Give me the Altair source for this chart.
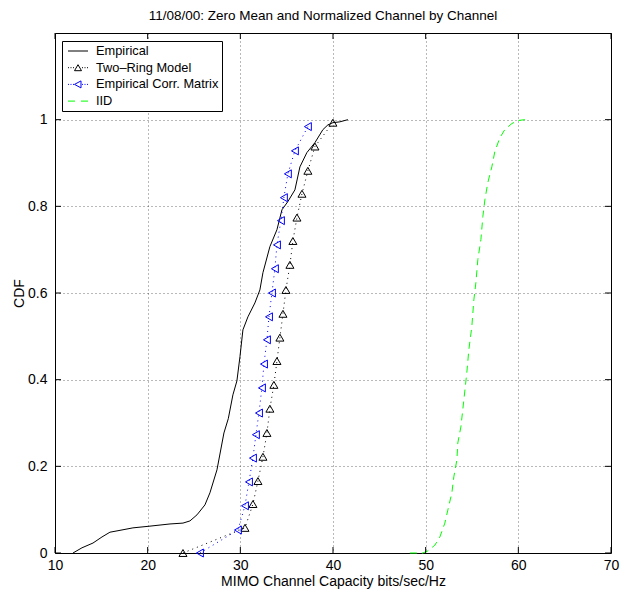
import altair as alt
import pandas as pd

# ---------------- data ----------------
emp_x = [11.94, 12.91, 14.10, 15.07, 15.93, 16.69, 18.41, 20.25, 22.41, 23.81, 24.56, 25.32,
         26.18, 26.72, 27.48, 28.23, 28.70, 29.20, 29.63, 29.96, 30.28, 30.82, 31.57, 32.11,
         32.44, 33.19, 33.95, 34.49, 35.13, 35.89, 36.43, 37.18, 38.05, 38.91, 39.45, 39.99,
         40.74, 41.61]
emp_y = [0.0, 0.012, 0.023, 0.037, 0.048, 0.051, 0.058, 0.062, 0.067, 0.069, 0.074, 0.088,
         0.111, 0.139, 0.192, 0.277, 0.310, 0.365, 0.397, 0.453, 0.515, 0.545, 0.577, 0.607,
         0.647, 0.707, 0.746, 0.792, 0.811, 0.838, 0.891, 0.924, 0.947, 0.977, 0.988, 0.993,
         0.995, 1.0]

ring_x = [23.81, 30.50, 31.36, 31.90, 32.44, 32.87, 33.19, 33.62, 33.95, 34.27, 34.60, 34.92,
          35.35, 35.67, 36.11, 36.65, 37.29, 38.05, 39.99]
ring_y = [0.0, 0.058, 0.113, 0.166, 0.222, 0.277, 0.333, 0.388, 0.443, 0.497, 0.552, 0.607,
          0.665, 0.720, 0.774, 0.829, 0.882, 0.938, 0.993]

corr_x = [25.64, 29.74, 30.50, 30.93, 31.36, 31.68, 32.01, 32.33, 32.55, 32.87, 33.09, 33.41,
          33.73, 33.95, 34.38, 34.70, 35.13, 35.89, 37.29]
corr_y = [0.0, 0.053, 0.109, 0.164, 0.219, 0.273, 0.323, 0.381, 0.436, 0.492, 0.545, 0.600,
          0.656, 0.711, 0.767, 0.820, 0.875, 0.928, 0.984]

iid_x = [48.30, 49.70, 50.24, 50.99, 51.53, 52.07, 52.39, 52.83, 53.04, 53.37, 53.47, 53.80,
         54.12, 54.44, 54.66, 54.98, 55.20, 55.42, 55.63, 55.96, 56.17, 56.39, 56.71, 57.14,
         57.46, 58.00, 58.54, 59.30, 59.95, 60.71]
iid_y = [0.0, 0.0, 0.005, 0.018, 0.037, 0.069, 0.099, 0.139, 0.176, 0.215, 0.254, 0.291,
         0.353, 0.416, 0.469, 0.522, 0.584, 0.624, 0.677, 0.723, 0.776, 0.815, 0.855, 0.891,
         0.926, 0.958, 0.977, 0.991, 0.998, 1.0]

series_names = ["Empirical", "Two\u2013Ring Model", "Empirical Corr. Matrix", "IID"]
series_colors = ["#000000", "#000000", "#0000ff", "#00ff00"]

x_ticks = [10, 20, 30, 40, 50, 60, 70]
y_ticks = [0, 0.2, 0.4, 0.6, 0.8, 1.0]

title_text = "11/08/00: Zero Mean and Normalized Channel by Channel"
x_title = "MIMO Channel Capacity bits/sec/Hz"
y_title = "CDF"

# ---------------- layout / style ----------------
W, H = 556, 520
FONT = "Liberation Sans"

xs = alt.Scale(domain=[10, 70], nice=False, zero=False)
ys = alt.Scale(domain=[0, 1.2], nice=False, zero=False)
xaxis = alt.Axis(values=x_ticks, title=x_title, grid=True, ticks=False, domain=False,
                 labelPadding=5, titlePadding=2, labelFlush=False)
yaxis = alt.Axis(values=y_ticks, format="~g", title=y_title, grid=True, ticks=False,
                 domain=False, labelPadding=8, titlePadding=1, labelFlush=False)
X = alt.X("x:Q", scale=xs, axis=xaxis)
Y = alt.Y("y:Q", scale=ys, axis=yaxis)

emp_df = pd.DataFrame({"x": emp_x, "y": emp_y})
ring_df = pd.DataFrame({"x": ring_x, "y": ring_y})
corr_df = pd.DataFrame({"x": corr_x, "y": corr_y})
iid_df = pd.DataFrame({"x": iid_x, "y": iid_y})

emp = alt.Chart(emp_df).mark_line(color="black", strokeWidth=1).encode(x=X, y=Y)
ring_line = alt.Chart(ring_df).mark_line(color="black", strokeWidth=1, strokeDash=[1, 4]).encode(x=X, y=Y)
ring_pts = alt.Chart(ring_df).mark_point(shape="triangle-up", size=64, color="black",
                                         filled=False, strokeWidth=1, opacity=1).encode(x=X, y=Y)
corr_line = alt.Chart(corr_df).mark_line(color="#0000ff", strokeWidth=1, strokeDash=[1, 4]).encode(x=X, y=Y)
corr_pts = alt.Chart(corr_df).mark_point(shape="triangle-left", size=64, color="#0000ff",
                                         filled=False, strokeWidth=1, opacity=1).encode(x=X, y=Y)
iid_line = alt.Chart(iid_df).mark_line(color="#00ff00", strokeWidth=1, strokeDash=[7, 5]).encode(x=X, y=Y)

# inward ticks on all four sides
xt_df = pd.DataFrame({"x": x_ticks})
yt_df = pd.DataFrame({"y": y_ticks})
TL = 6
xtb = alt.Chart(xt_df).mark_rule(color="black", strokeWidth=1).encode(x=X, y=alt.value(H), y2=alt.value(H - TL))
xtt = alt.Chart(xt_df).mark_rule(color="black", strokeWidth=1).encode(x=X, y=alt.value(0), y2=alt.value(TL))
ytl = alt.Chart(yt_df).mark_rule(color="black", strokeWidth=1).encode(y=Y, x=alt.value(0), x2=alt.value(TL))
ytr = alt.Chart(yt_df).mark_rule(color="black", strokeWidth=1).encode(y=Y, x=alt.value(W), x2=alt.value(W - TL))

# legend symbols (custom paths: line sample + marker)
SYM = 169
U = 6.5     # px per path unit (sqrt(169)/2)
C = 6.0 / U  # horizontal shift of the sample, in path units


def P(px, py):
    return f"{px / U + C:.3f},{py / U:.3f}"


def dots(xs_):
    return "".join(f"M{P(v - 0.5, 0)}L{P(v + 0.5, 0)}" for v in xs_)


path_emp = f"M{P(-10, 0)}L{P(10, 0)}"
path_ring = dots([-9.5, -7, -4.5, 4.5, 7, 9.5]) + f"M{P(0, -3)}L{P(-3.5, 3)}L{P(3.5, 3)}Z"
path_corr = dots([-9.5, -7, -4.5, 4.5, 7, 9.5]) + f"M{P(-3.5, 0)}L{P(3, -3.5)}L{P(3, 3.5)}Z"
path_iid = f"M{P(-10, 0)}L{P(-3, 0)}M{P(3, 0)}L{P(10, 0)}"
paths = [path_emp, path_ring, path_corr, path_iid]

leg_props = dict(orient="none", legendX=7, legendY=8, title=None, symbolSize=SYM,
                 symbolStrokeWidth=1, labelFont=FONT, labelFontSize=12.8, labelColor="black",
                 labelOffset=17, padding=3, rowPadding=2.7, strokeColor="black",
                 fillColor="white")
leg_df = pd.DataFrame({"series": series_names})
leg = alt.Chart(leg_df).transform_filter("false").mark_point(filled=False, strokeWidth=1, opacity=1).encode(
    color=alt.Color("series:N", scale=alt.Scale(domain=series_names, range=series_colors),
                    legend=alt.Legend(**leg_props)),
    shape=alt.Shape("series:N", scale=alt.Scale(domain=series_names, range=paths),
                    legend=alt.Legend(**leg_props)),
)

chart = alt.layer(
    emp, ring_line, corr_line, iid_line, ring_pts, corr_pts, xtb, xtt, ytl, ytr, leg
).properties(
    width=W, height=H,
    title=alt.TitleParams(title_text, font=FONT, fontSize=13.5, fontWeight="normal",
                          color="black", anchor="middle", offset=10, dx=-10),
    autosize="none",
    padding={"left": 47, "top": 25, "right": 17, "bottom": 37},
).configure_view(
    stroke="black", strokeWidth=1
).configure_axis(
    gridDash=[1, 3], gridColor="#000000", gridOpacity=0.55, gridWidth=1,
    labelFont=FONT, labelFontSize=14, labelColor="black",
    titleFont=FONT, titleFontSize=14, titleFontWeight="normal", titleColor="black",
)

chart.save("out.html", embed_options={"renderer": "svg", "actions": False})
